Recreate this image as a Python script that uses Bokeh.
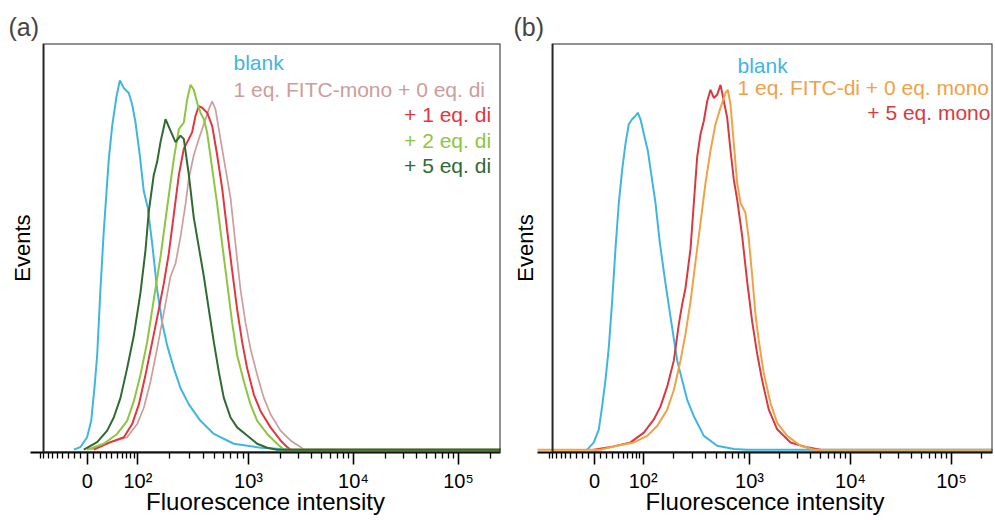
import numpy as np
from bokeh.plotting import figure
from bokeh.models import FixedTicker, BoxAnnotation, Label, Range1d
from bokeh.layouts import row
from bokeh.embed import file_html
from bokeh.resources import INLINE

FONT = "Liberation Sans"

# x: position on the logicle (biexponential) display scale, in decades (3 = 10^3)
# y: events, as % of the full vertical scale

# ---------------- panel (a) ----------------
a_blank_x = [1.337, 1.400, 1.463, 1.502, 1.533, 1.559, 1.590, 1.622, 1.670, 1.702, 1.743, 1.775, 1.813,
             1.860, 1.892, 1.924, 1.965, 2.003, 2.041, 2.083, 2.130, 2.178, 2.225, 2.289, 2.352, 2.432,
             2.543, 2.670, 2.860, 3.114, 3.432, 5.45]
a_blank_y = [0, 0.65, 3.07, 7.10, 15.17, 23.24, 39.39, 53.91, 71.67, 79.74, 87.01, 90.88, 89.02,
             87.81, 84.99, 80.55, 72.48, 63.60, 59.56, 50.69, 39.39, 31.32, 25.67, 20.02, 15.17, 11.14,
             7.10, 3.87, 1.45, 0.48, 0, 0]

a_mono0_x = [1.495, 1.686, 1.844, 1.940, 2.003, 2.067, 2.130, 2.194, 2.257, 2.305, 2.352, 2.400, 2.432,
             2.479, 2.527, 2.575, 2.622, 2.654, 2.686, 2.733, 2.781, 2.829, 2.876, 2.924, 2.971, 3.019,
             3.083, 3.146, 3.210, 3.305, 3.400, 3.495, 3.527, 5.45]
a_mono0_y = [0, 1.86, 3.07, 6.30, 10.33, 16.79, 24.86, 33.74, 42.62, 45.84, 52.30, 60.37, 66.83,
             72.48, 76.51, 80.15, 83.78, 85.79, 83.78, 76.51, 69.25, 61.99, 50.69, 39.39, 31.32, 24.86,
             18.40, 12.75, 8.72, 4.68, 2.26, 0.65, 0, 0]

a_di1_x = [1.527, 1.686, 1.813, 1.892, 1.956, 2.019, 2.083, 2.146, 2.194, 2.241, 2.289, 2.337, 2.384,
           2.432, 2.463, 2.495, 2.527, 2.559, 2.606, 2.654, 2.702, 2.749, 2.797, 2.844, 2.892, 2.940,
           2.987, 3.051, 3.114, 3.210, 3.305, 3.368, 3.400, 5.45]
a_di1_y = [0, 1.86, 3.07, 6.30, 11.14, 18.40, 26.47, 34.54, 41.00, 48.26, 57.95, 67.64, 74.09,
           76.51, 78.13, 82.16, 84.58, 84.18, 82.97, 79.74, 72.48, 64.41, 53.91, 44.23, 34.54, 26.47,
           20.02, 13.56, 9.52, 5.49, 2.26, 0.65, 0, 0]

a_di2_x = [1.463, 1.622, 1.749, 1.844, 1.908, 1.971, 2.035, 2.098, 2.162, 2.225, 2.289, 2.337, 2.384,
           2.416, 2.448, 2.479, 2.511, 2.543, 2.575, 2.606, 2.654, 2.702, 2.749, 2.797, 2.844, 2.892,
           2.956, 3.019, 3.083, 3.178, 3.273, 3.337, 5.45]
a_di2_y = [0, 1.45, 3.87, 7.10, 11.94, 18.40, 26.47, 36.97, 47.46, 59.56, 71.67, 78.93, 80.55,
           86.20, 89.83, 88.62, 85.39, 82.97, 81.36, 78.13, 69.25, 60.37, 50.69, 41.00, 31.32, 23.24,
           16.79, 11.14, 7.10, 3.87, 1.45, 0, 0]

a_di5_x = [1.432, 1.559, 1.654, 1.717, 1.781, 1.844, 1.908, 1.971, 2.019, 2.051, 2.098, 2.130, 2.162,
           2.210, 2.257, 2.305, 2.352, 2.384, 2.432, 2.479, 2.527, 2.575, 2.622, 2.670, 2.717, 2.765,
           2.829, 2.892, 2.987, 3.083, 3.178, 3.273, 5.45]
a_di5_y = [0, 1.86, 4.68, 7.91, 12.75, 20.02, 28.09, 38.58, 49.07, 58.76, 67.64, 70.86, 75.71,
           81.36, 78.53, 75.71, 77.32, 76.51, 67.64, 57.14, 49.88, 42.62, 34.54, 26.47, 19.21, 12.75,
           7.91, 5.49, 3.47, 1.45, 0.48, 0, 0]

# ---------------- panel (b) ----------------
b_blank_x = [1.393, 1.459, 1.508, 1.541, 1.574, 1.607, 1.640, 1.673, 1.706, 1.739, 1.772, 1.805, 1.838,
             1.871, 1.894, 1.921, 1.954, 1.993, 2.026, 2.069, 2.112, 2.152, 2.185, 2.234, 2.284, 2.333,
             2.383, 2.449, 2.548, 2.680, 2.845, 2.977, 5.45]
b_blank_y = [0, 1.78, 5.01, 10.66, 17.12, 25.20, 36.51, 49.43, 60.74, 68.82, 75.28, 80.13, 81.34,
             82.15, 82.96, 81.34, 77.71, 73.67, 68.01, 60.74, 51.05, 43.78, 38.13, 30.05, 21.97, 17.12,
             12.28, 8.24, 3.39, 0.97, 0.16, 0, 0]

b_di0_x = [0.85, 1.525, 1.690, 1.855, 1.987, 2.086, 2.185, 2.251, 2.317, 2.366, 2.416, 2.465, 2.515,
           2.564, 2.614, 2.663, 2.713, 2.762, 2.785, 2.812, 2.845, 2.878, 2.911, 2.960, 2.993, 3.026,
           3.059, 3.092, 3.142, 3.208, 3.274, 3.373, 3.505, 3.637, 5.45]
b_di0_y = [0, 0, 0.97, 1.78, 3.39, 5.82, 9.85, 14.70, 21.97, 28.43, 36.51, 46.20, 55.90,
           65.59, 73.67, 80.13, 84.17, 87.80, 88.61, 84.98, 75.28, 65.59, 60.74, 58.32, 51.86, 42.97,
           33.28, 26.82, 18.74, 11.47, 6.62, 3.39, 0.97, 0, 0]

b_mono5_x = [1.459, 1.657, 1.822, 1.954, 2.053, 2.119, 2.185, 2.251, 2.300, 2.333, 2.366, 2.416, 2.449,
             2.482, 2.515, 2.548, 2.581, 2.614, 2.647, 2.680, 2.713, 2.746, 2.779, 2.812, 2.845, 2.878,
             2.927, 2.977, 3.026, 3.076, 3.125, 3.191, 3.274, 3.406, 3.571, 3.703]
b_mono5_y = [0, 0.81, 1.78, 4.20, 7.43, 10.66, 15.51, 21.97, 30.86, 35.70, 39.74, 49.43, 60.74,
             72.05, 77.71, 80.94, 85.78, 88.61, 86.59, 87.40, 89.82, 85.78, 81.74, 73.67, 66.40, 61.55,
             52.67, 41.36, 31.66, 23.59, 17.12, 9.85, 5.01, 1.78, 0.57, 0]

# ---------------- axis ticks (fluorescence intensity) ----------------
TICK_VALUES = [0, 100, 1000, 10000, 100000]
TICK_LABELS = ["0", "10\u00b2", "10\u00b3", "10\u2074", "10\u2075"]
MINOR_VALUES = ([-90, -80, -70, -60, -50, -40, -30, -20, -10]
                + [10, 20, 30, 40, 50, 60, 70, 80, 90]
                + [200, 300, 400, 500, 600, 700, 800, 900]
                + [2000, 3000, 4000, 5000, 6000, 7000, 8000, 9000]
                + [20000, 30000, 40000, 50000, 60000, 70000, 80000, 90000]
                + [200000])

X_TITLE = "Fluorescence intensity"
Y_TITLE = "Events"

# colours
C_BLANK = "#3fb6e2"
C_MONO0 = "#cc9d9c"
C_DI1 = "#e5353f"
C_DI2 = "#8dc63f"
C_DI5 = "#2f6a33"
C_DI0 = "#f1a146"
C_MONO5 = "#da393e"


def logicle(v):
    """Map intensity to display decades (linear-ish near 0, logarithmic above 10^3)."""
    zero, hundred = 1.465, 1.947

    def T(z):
        return np.arcsinh(np.asarray(z, dtype=float) / 60.0) / np.log(10)

    pos_v = np.array([100, 1e3, 1e4, 1e5, 1e6])
    pos_u = np.array([hundred, 3, 4, 5, 6])
    av = np.concatenate([-pos_v[::-1], [0.0], pos_v])
    au = np.concatenate([2 * zero - pos_u[::-1], [zero], pos_u])
    return np.interp(T(v), T(av), au)


def make_panel(tag, width, xr, borders, box_left, curves, legend, title_offset, y_standoff):
    left, right, top, bottom = borders
    p = figure(width=width, height=520, x_range=Range1d(*xr), y_range=Range1d(-0.7, 100),
               output_backend="svg", toolbar_location=None,
               min_border_left=left, min_border_right=right,
               min_border_top=top, min_border_bottom=bottom,
               outline_line_color=None, background_fill_color="white",
               border_fill_color="white")
    p.grid.visible = False

    for xs, ys, col, lw in curves:
        p.line(xs, ys, line_color=col, line_width=lw)

    box = BoxAnnotation(left=box_left, fill_alpha=0, line_color="#262626", line_alpha=1.0,
                        line_width=2)
    p.add_layout(box)

    ticks = [round(float(t), 5) for t in logicle(TICK_VALUES)]
    minors = [round(float(t), 5) for t in logicle(MINOR_VALUES)]
    ax = p.xaxis[0]
    ax.ticker = FixedTicker(ticks=ticks, minor_ticks=minors)
    ax.major_label_overrides = {t: lab for t, lab in zip(ticks, TICK_LABELS)}
    ax.axis_line_color = "black"
    ax.axis_line_width = 2
    ax.major_tick_line_color = "black"
    ax.major_tick_line_width = 1.6
    ax.major_tick_out = 12
    ax.major_tick_in = 0
    ax.minor_tick_line_color = "black"
    ax.minor_tick_line_width = 1.3
    ax.minor_tick_out = 6
    ax.minor_tick_in = 0
    ax.major_label_text_font = FONT
    ax.major_label_text_font_size = "20px"
    ax.major_label_text_color = "black"
    ax.major_label_standoff = 5
    ax.axis_label = X_TITLE
    ax.axis_label_text_font = FONT
    ax.axis_label_text_font_size = "24px"
    ax.axis_label_text_font_style = "normal"
    ax.axis_label_text_color = "black"
    ax.axis_label_standoff = -7

    yax = p.yaxis[0]
    yax.ticker = FixedTicker(ticks=[])
    yax.axis_line_color = None
    yax.major_tick_line_color = None
    yax.minor_tick_line_color = None
    yax.major_label_text_font_size = "0px"
    yax.axis_label = Y_TITLE
    yax.axis_label_text_font = FONT
    yax.axis_label_text_font_size = "22px"
    yax.axis_label_text_font_style = "normal"
    yax.axis_label_text_color = "black"
    yax.axis_label_standoff = y_standoff

    p.title.text = tag
    p.title.text_font = FONT
    p.title.text_font_size = "25px"
    p.title.text_font_style = "normal"
    p.title.align = "left"
    p.title.offset = title_offset
    p.title.standoff = 6

    for text, col, x, y, align in legend:
        p.add_layout(Label(x=x, y=y, text=text, text_color=col, text_align=align,
                           text_baseline="middle", text_font=FONT, text_font_size="21px"))
    return p


pa = make_panel(
    "(a)", 505, (0.924, 5.40), (30, 5, 43, 64), 1.048,
    [(a_blank_x, a_blank_y, C_BLANK, 2),
     (a_mono0_x, a_mono0_y, C_MONO0, 1.7),
     (a_di1_x, a_di1_y, C_DI1, 2),
     (a_di2_x, a_di2_y, C_DI2, 2),
     (a_di5_x, a_di5_y, C_DI5, 2)],
    [("blank", C_BLANK, 2.857, 95.2, "left"),
     ("1 eq. FITC-mono + 0 eq. di", C_MONO0, 2.857, 88.6, "left"),
     ("+ 1 eq. di", C_DI1, 5.31, 82.6, "right"),
     ("+ 2 eq. di", C_DI2, 5.31, 76.0, "right"),
     ("+ 5 eq. di", C_DI5, 5.31, 70.0, "right")],
    -22, -4)

pb = make_panel(
    "(b)", 490, (0.901, 5.406), (32, 3, 38, 68), 1.050,
    [(b_blank_x, b_blank_y, C_BLANK, 2),
     (b_mono5_x, b_mono5_y, C_MONO5, 2),
     (b_di0_x, b_di0_y, C_DI0, 2)],
    [("blank", C_BLANK, 2.881, 94.7, "left"),
     ("1 eq. FITC-di + 0 eq. mono", C_DI0, 2.881, 89.1, "left"),
     ("+ 5 eq. mono", C_MONO5, 5.386, 82.9, "right")],
    -24, 0)

layout = row(pa, pb)
open("out.html", "w").write(file_html(layout, INLINE))
